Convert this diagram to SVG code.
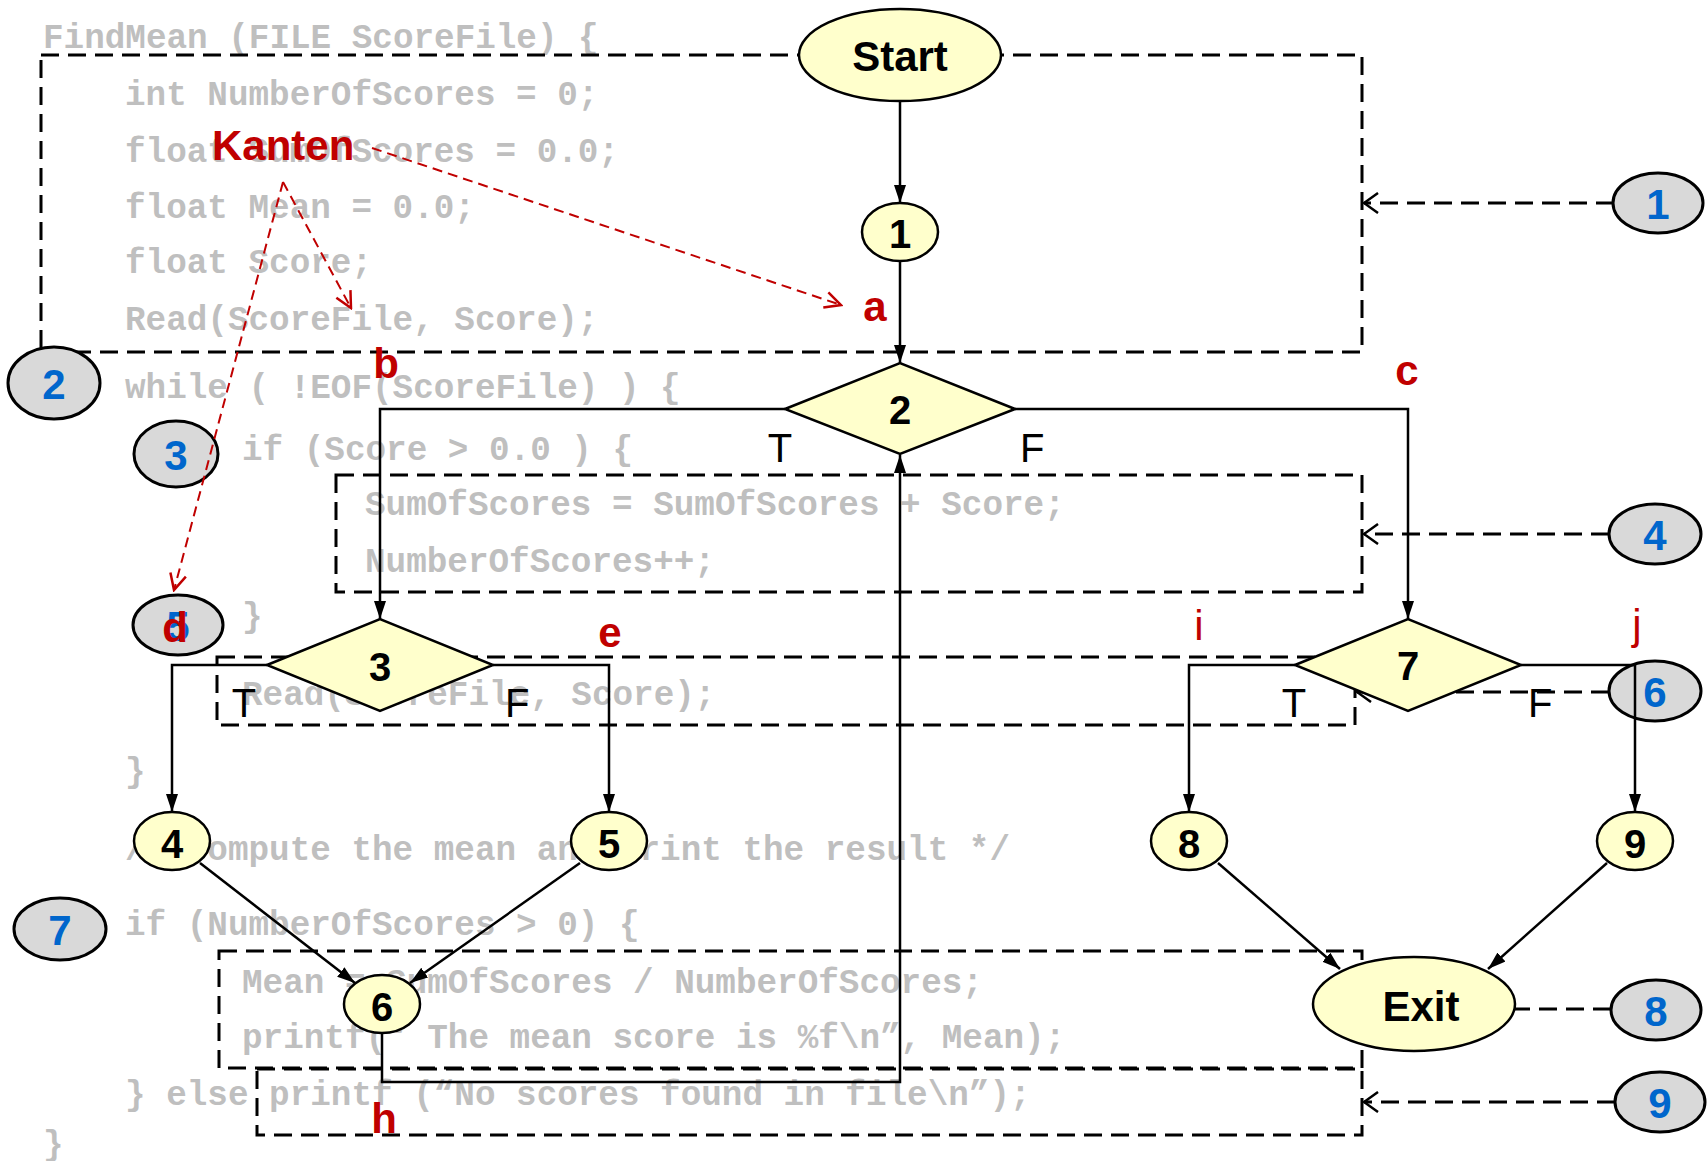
<svg xmlns="http://www.w3.org/2000/svg" width="1708" height="1161" viewBox="0 0 1708 1161">
<style>
.code{font-family:"Liberation Mono","Courier New",monospace;font-weight:bold;font-size:34.3px;fill:#bfbfbf}
.box{fill:none;stroke:#000;stroke-width:3;stroke-dasharray:18 9}
.ann{fill:none;stroke:#000;stroke-width:3;stroke-dasharray:18 9}
.gc{fill:#d9d9d9;stroke:#000;stroke-width:3}
.gt{font-family:"Liberation Sans",Arial,sans-serif;font-weight:bold;font-size:42px;fill:#0066cc;text-anchor:middle}
.edge{fill:none;stroke:#000;stroke-width:2.5}
.nd{fill:#ffffcc;stroke:#000;stroke-width:2.5}
.nt{font-family:"Liberation Sans",Arial,sans-serif;font-weight:bold;font-size:40px;fill:#000;text-anchor:middle}
.tf{font-family:"Liberation Sans",Arial,sans-serif;font-size:40px;fill:#000}
.rl{font-family:"Liberation Sans",Arial,sans-serif;font-weight:bold;font-size:42px;fill:#c00000;text-anchor:middle}
.rn{font-family:"Liberation Sans",Arial,sans-serif;font-size:42px;fill:#c00000;text-anchor:middle}
.red{fill:none;stroke:#c00000;stroke-width:2;stroke-dasharray:10 6}
</style>
<defs>
<marker id="arr" viewBox="0 0 18 12" refX="18" refY="6" markerWidth="18" markerHeight="12" orient="auto" markerUnits="userSpaceOnUse">
<path d="M0,0 L18,6 L0,12 z" fill="#000"/>
</marker>
<marker id="open" viewBox="0 0 16 22" refX="15" refY="11" markerWidth="16" markerHeight="22" orient="auto" markerUnits="userSpaceOnUse">
<path d="M1,1 L15,11 L1,21" fill="none" stroke="#000" stroke-width="2.5"/>
</marker>
<marker id="ropen" viewBox="0 0 20 20" refX="18" refY="10" markerWidth="20" markerHeight="20" orient="auto" markerUnits="userSpaceOnUse">
<path d="M2,2 L18,10 L2,18" fill="none" stroke="#c00000" stroke-width="2.5"/>
</marker>
</defs>
<rect width="1708" height="1161" fill="#fff"/>

<g id="code">
<text class="code" x="43" y="48">FindMean (FILE ScoreFile) {</text>
<text class="code" x="125" y="105">int NumberOfScores = 0;</text>
<text class="code" x="125" y="162">float SumOfScores = 0.0;</text>
<text class="code" x="125" y="218">float Mean = 0.0;</text>
<text class="code" x="125" y="273">float Score;</text>
<text class="code" x="125" y="330">Read(ScoreFile, Score);</text>
<text class="code" x="125" y="398">while ( !EOF(ScoreFile) ) {</text>
<text class="code" x="242" y="460">if (Score &gt; 0.0 ) {</text>
<text class="code" x="365" y="515">SumOfScores = SumOfScores + Score;</text>
<text class="code" x="365" y="572">NumberOfScores++;</text>
<text class="code" x="242" y="627">}</text>
<text class="code" x="242" y="705">Read(ScoreFile, Score);</text>
<text class="code" x="125" y="782">}</text>
<text class="code" x="125" y="860">/* compute the mean and print the result */</text>
<text class="code" x="125" y="935">if (NumberOfScores &gt; 0) {</text>
<text class="code" x="242" y="993">Mean = SumOfScores / NumberOfScores;</text>
<text class="code" x="242" y="1048">printf(“ The mean score is %f\n”, Mean);</text>
<text class="code" x="125" y="1105">} else printf (“No scores found in file\n”);</text>
<text class="code" x="43" y="1155">}</text>
</g>

<g id="boxes">
<rect class="box" x="41" y="55" width="1321" height="297"/>
<rect class="box" x="336" y="475" width="1026" height="117"/>
<rect class="box" x="217" y="657" width="1138" height="68"/>
<rect class="box" x="219" y="951" width="1143" height="117"/>
<rect class="box" x="257" y="1069" width="1105" height="66"/>
</g>

<g id="annotation-links">
<path class="ann" d="M1614,203 L1364,203" marker-end="url(#open)"/>
<path class="ann" d="M1609,534 L1364,534" marker-end="url(#open)"/>
<path class="ann" d="M1609,692 L1357,692" marker-end="url(#open)"/>
<path class="ann" d="M1611,1009 L1364,1009" marker-end="url(#open)"/>
<path class="ann" d="M1615,1102 L1364,1102" marker-end="url(#open)"/>
</g>

<g id="stmt1"><ellipse class="gc" cx="1658" cy="203" rx="45" ry="30"/><text class="gt" x="1658" y="219">1</text></g>
<g id="stmt2"><ellipse class="gc" cx="54" cy="383" rx="46" ry="36"/><text class="gt" x="54" y="399">2</text></g>
<g id="stmt3"><ellipse class="gc" cx="176" cy="454" rx="42" ry="33"/><text class="gt" x="176" y="470">3</text></g>
<g id="stmt5"><ellipse class="gc" cx="178" cy="625" rx="45" ry="30"/><text class="gt" x="178" y="641">5</text></g>
<g id="stmt4"><ellipse class="gc" cx="1655" cy="534" rx="46" ry="30"/><text class="gt" x="1655" y="550">4</text></g>
<g id="stmt6"><ellipse class="gc" cx="1655" cy="691" rx="46" ry="30"/><text class="gt" x="1655" y="707">6</text></g>
<g id="stmt7"><ellipse class="gc" cx="60" cy="929" rx="46" ry="31"/><text class="gt" x="60" y="945">7</text></g>
<g id="stmt8"><ellipse class="gc" cx="1656" cy="1010" rx="45" ry="30"/><text class="gt" x="1656" y="1026">8</text></g>
<g id="stmt9"><ellipse class="gc" cx="1660" cy="1102" rx="45" ry="30"/><text class="gt" x="1660" y="1118">9</text></g>

<g id="connectors">
<path class="edge" d="M900,102 L900,203" marker-end="url(#arr)"/>
<path class="edge" d="M900,262 L900,363" marker-end="url(#arr)"/>
<path class="edge" d="M785,409 L380,409 L380,619" marker-end="url(#arr)"/>
<path class="edge" d="M1015,409 L1408,409 L1408,619" marker-end="url(#arr)"/>
<path class="edge" d="M267,665 L172,665 L172,812" marker-end="url(#arr)"/>
<path class="edge" d="M493,665 L609,665 L609,812" marker-end="url(#arr)"/>
<path class="edge" d="M200,863 L355,983" marker-end="url(#arr)"/>
<path class="edge" d="M580,863 L410,983" marker-end="url(#arr)"/>
<path class="edge" d="M382,1033 L382,1082 L900,1082 L900,455" marker-end="url(#arr)"/>
<path class="edge" d="M1295,665 L1189,665 L1189,812" marker-end="url(#arr)"/>
<path class="edge" d="M1521,665 L1635,665 L1635,812" marker-end="url(#arr)"/>
<path class="edge" d="M1218,863 L1340,969" marker-end="url(#arr)"/>
<path class="edge" d="M1607,863 L1488,969" marker-end="url(#arr)"/>
</g>

<g id="start"><ellipse class="nd" cx="900" cy="55" rx="101" ry="46"/><text class="nt" x="900" y="71" style="font-size:42px">Start</text></g>
<g id="n1"><ellipse class="nd" cx="900" cy="232" rx="38" ry="29"/><text class="nt" x="900" y="248">1</text></g>
<g id="n2"><path class="nd" d="M785,409 L900,363 L1015,409 L900,454 z"/><text class="nt" x="900" y="424">2</text></g>
<g id="n3"><path class="nd" d="M267,665 L380,619 L493,665 L380,711 z"/><text class="nt" x="380" y="681">3</text></g>
<g id="n7"><path class="nd" d="M1295,665 L1408,619 L1521,665 L1408,711 z"/><text class="nt" x="1408" y="680">7</text></g>
<g id="n4"><ellipse class="nd" cx="172" cy="841" rx="38" ry="29"/><text class="nt" x="172" y="858">4</text></g>
<g id="n5"><ellipse class="nd" cx="609" cy="841" rx="38" ry="29"/><text class="nt" x="609" y="858">5</text></g>
<g id="n6"><ellipse class="nd" cx="382" cy="1004" rx="38" ry="29"/><text class="nt" x="382" y="1021">6</text></g>
<g id="n8"><ellipse class="nd" cx="1189" cy="841" rx="38" ry="29"/><text class="nt" x="1189" y="858">8</text></g>
<g id="n9"><ellipse class="nd" cx="1635" cy="841" rx="38" ry="29"/><text class="nt" x="1635" y="858">9</text></g>
<g id="exit"><ellipse class="nd" cx="1414" cy="1004" rx="101" ry="47"/><text class="nt" x="1421" y="1021" style="font-size:42px">Exit</text></g>

<g id="branch-labels">
<text class="tf" x="780" y="462" text-anchor="middle">T</text>
<text class="tf" x="1020" y="462">F</text>
<text class="tf" x="244" y="717" text-anchor="middle">T</text>
<text class="tf" x="505" y="717">F</text>
<text class="tf" x="1294" y="717" text-anchor="middle">T</text>
<text class="tf" x="1528" y="717">F</text>
</g>

<g id="edge-labels">
<text class="rl" x="875" y="321">a</text>
<text class="rl" x="386" y="378">b</text>
<text class="rl" x="1407" y="385">c</text>
<text class="rl" x="175" y="642">d</text>
<text class="rl" x="610" y="647">e</text>
<text class="rl" x="384" y="1133">h</text>
<text class="rn" x="1199" y="640">i</text>
<text class="rn" x="1637" y="639">j</text>
</g>

<g id="kanten">
<text x="212" y="160" style="font-family:'Liberation Sans',Arial,sans-serif;font-weight:bold;font-size:42px;fill:#c00000">Kanten</text>
<path class="red" d="M372,148 L841,305" marker-end="url(#ropen)"/>
<path class="red" d="M283,182 L351,308" marker-end="url(#ropen)"/>
<path class="red" d="M283,182 L174,590" marker-end="url(#ropen)"/>
</g>
</svg>
